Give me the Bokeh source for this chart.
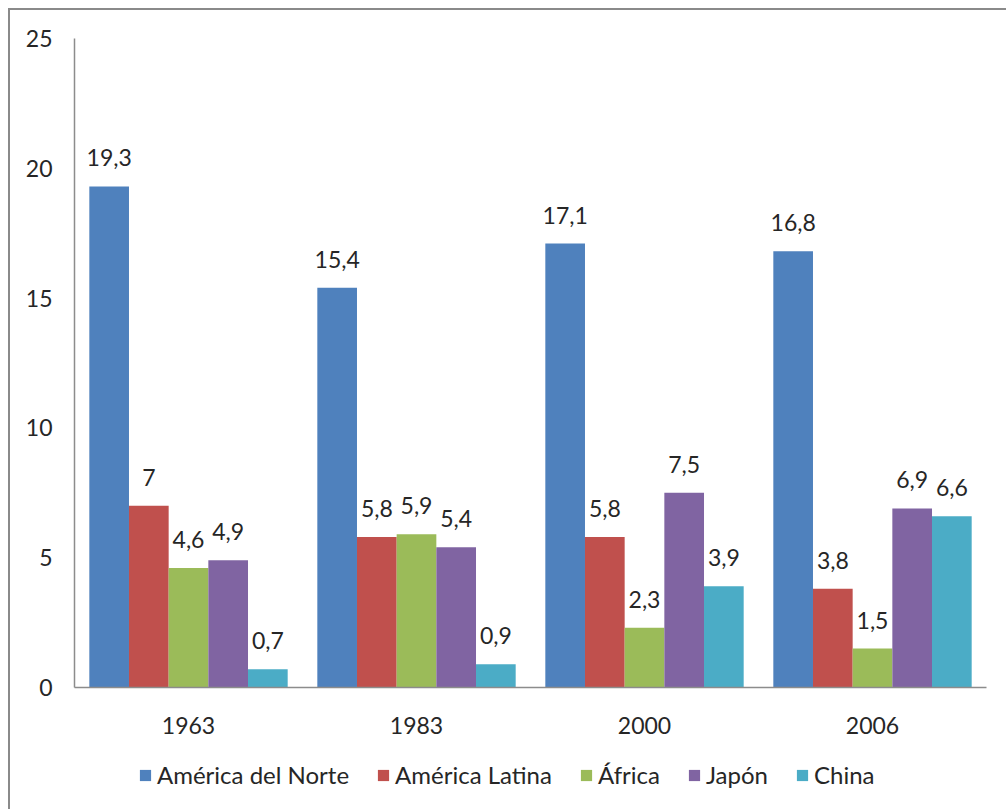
from bokeh.plotting import figure
from bokeh.layouts import column
from bokeh.models import Range1d, FixedTicker, Legend, LegendItem, ColumnDataSource
from bokeh.embed import file_html
from bokeh.resources import INLINE
from bokeh.core.properties import value

years = ["1963", "1983", "2000", "2006"]
series = ["América del Norte", "América Latina", "África", "Japón", "China"]
america_norte = [19.3, 15.4, 17.1, 16.8]
america_latina = [7, 5.8, 5.8, 3.8]
africa = [4.6, 5.9, 2.3, 1.5]
japon = [4.9, 5.4, 7.5, 6.9]
china = [0.7, 0.9, 3.9, 6.6]
y_ticks = [0, 5, 10, 15, 20, 25]

colors = ["#4F81BD", "#C0504D", "#9BBB59", "#8064A2", "#4BACC6"]
all_vals = [america_norte, america_latina, africa, japon, china]

FONT = "Lato"
p = figure(width=996, height=28 + 649 + 60, output_backend="svg", toolbar_location=None,
           x_range=Range1d(0, 4), y_range=Range1d(0, 25),
           min_border_left=64, min_border_right=20, min_border_top=28, min_border_bottom=60)
p.outline_line_color = None
p.xgrid.grid_line_color = None
p.ygrid.grid_line_color = None

bw = 0.174
for i, (name, vals, col) in enumerate(zip(series, all_vals, colors)):
    xs = [j + 0.5 + (i - 2) * bw for j in range(len(years))]
    labels = [("%g" % v).replace(".", ",") for v in vals]
    src = ColumnDataSource(dict(x=xs, top=vals, lab=labels))
    p.vbar(x="x", top="top", width=bw, bottom=0, source=src, fill_color=col, line_color=None)
    p.text(x="x", y="top", text="lab", source=src, text_align="center", text_baseline="bottom",
           y_offset=-20, text_font=value(FONT), text_font_size="23px", text_color="#262626")

p.xaxis.ticker = FixedTicker(ticks=[0.5, 1.5, 2.5, 3.5])
p.xaxis.major_label_overrides = {0.5: years[0], 1.5: years[1], 2.5: years[2], 3.5: years[3]}
p.yaxis.ticker = FixedTicker(ticks=y_ticks)
for ax in (p.xaxis[0], p.yaxis[0]):
    ax.axis_line_color = "#8c8c8c"
    ax.axis_line_width = 1.5
    ax.major_tick_line_color = None
    ax.minor_tick_line_color = None
    ax.major_tick_out = 0
    ax.major_tick_in = 0
    ax.minor_tick_out = 0
    ax.major_label_text_font = FONT
    ax.major_label_text_font_size = "23px"
    ax.major_label_text_color = "#262626"
p.yaxis.major_label_standoff = 22
p.xaxis.major_label_standoff = 29

# legend panel (swatches come from zero-size bars that only carry the series colours)
p2 = figure(width=996, height=64, output_backend="svg", toolbar_location=None,
            x_axis_type=None, y_axis_type=None, x_range=Range1d(0, 1), y_range=Range1d(0, 1),
            min_border=0)
p2.outline_line_color = None
items = []
for name, col in zip(series, colors):
    r = p2.vbar(x=[0.5], top=[0], bottom=[0], width=0, fill_color=col, line_color=None)
    items.append(LegendItem(label=name, renderers=[r]))
legend = Legend(items=items, orientation="horizontal", location=(64, 22),
                label_text_font=FONT, label_text_font_size="24px", label_text_color="#262626",
                glyph_width=14, glyph_height=14, spacing=27, label_standoff=5, label_height=24,
                border_line_color=None, background_fill_alpha=0, padding=0, margin=0)
p2.add_layout(legend, "center")

layout = column(p, p2, spacing=0,
                styles={"border": "2px solid #8a8a8a", "margin-left": "8px", "margin-top": "8px"})

open("out.html", "w").write(file_html(layout, INLINE))
